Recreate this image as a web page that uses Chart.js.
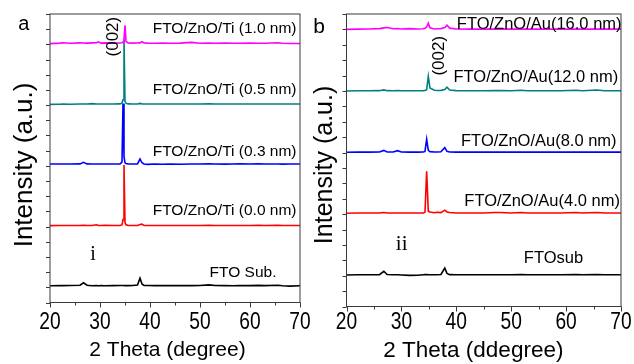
<!DOCTYPE html>
<html>
<head>
<meta charset="utf-8">
<script src="https://cdn.jsdelivr.net/npm/chart.js@4.4.1/dist/chart.umd.min.js"></script>
<style>
  body { margin: 0; background: #fff; }
  .wrap { position: relative; width: 634px; height: 364px; }
  .wrap canvas { position: absolute; left: 0; top: 0; }
</style>
</head>
<body>
<div class="wrap">
  <canvas id="panelA" width="634" height="364"></canvas>
  <canvas id="panelB" width="634" height="364"></canvas>
</div>
<script>
// ---- panel a : FTO/ZnO/Ti ----
const twoThetaA = [20, 22, 22.6, 24, 26, 26.7, 27.4, 28.4, 29.3, 29.7,
  30.2, 31, 32.5, 34, 34.4, 34.6, 34.8, 35.0, 35.2, 35.6,
  36.5, 37.5, 38.0, 38.4, 38.8, 39.5, 41, 42.5, 44, 46,
  48.3, 50, 51.8, 53, 55, 56.5, 58, 60, 61.7, 63,
  65.6, 66.5, 68, 70];

const ti10 = [0, 0.03, 0.06, 0.02, 0.05, 0.04, 0.03, 0.05, 0.06, 0.12,
  0.03, 0.05, 0.03, 0.04, 0.06, 0.1, 0.3, 1.2, 0.15, 0.05,
  0.03, 0.04, 0.05, 0.12, 0.04, 0.03, 0.02, 0.04, 0.02, 0.03,
  0.08, 0.02, 0.03, 0.02, 0.03, 0.02, 0.02, 0.03, 0.02, 0.02,
  0.06, 0.02, 0.01, 0.01];
const ti05 = [0, 0.01, 0.02, 0.01, 0.02, 0.02, 0.02, 0.05, 0.02, 0.02,
  0.02, 0.02, 0.02, 0.03, 0.08, 0.3, 4.3, 0.2, 0.08, 0.03,
  0.02, 0.02, 0.06, 0.03, 0.02, 0.02, 0.02, 0.02, 0.02, 0.02,
  0.02, 0.02, 0.03, 0.02, 0.02, 0.02, 0.02, 0.02, 0.02, 0.02,
  0.02, 0.02, 0.02, 0.02];
const ti03 = [0.02, 0.02, 0.02, 0.02, 0.03, 0.13, 0.03, 0.02, 0.02, 0.02,
  0.02, 0.02, 0.02, 0.03, 0.15, 4.0, 0.5, 0.1, 0.05, 0.03,
  0.02, 0.03, 0.35, 0.1, 0.02, 0.0, 0.02, 0.0, 0.02, 0.0,
  0.02, 0.02, 0.03, 0.02, 0.01, 0.02, 0.03, 0.02, 0.03, 0.02,
  0.02, 0.01, 0.02, 0.02];
const ti00 = [0, 0.01, 0.01, 0.01, 0.01, 0.03, 0.01, 0.01, 0.06, 0.01,
  0.01, 0.03, 0.01, 0.02, 0.05, 0.4, 4.0, 0.2, 0.06, 0.02,
  0.01, 0.01, 0.08, 0.1, 0.02, 0.01, 0.01, 0.01, 0.01, 0.01,
  0.01, 0.01, 0.03, 0.01, 0.01, 0.01, 0.01, 0.01, 0.02, 0.01,
  0.02, 0.01, 0.01, 0.01];
const ftoA = [0, 0.02, 0.01, 0.02, 0.04, 0.2, 0.04, 0.0, 0.01, 0.0,
  0.02, 0.0, 0.01, 0.02, 0.02, 0.02, 0.02, 0.01, 0.02, 0.01,
  0.02, 0.05, 0.5, 0.12, 0.03, 0.02, 0.01, 0.02, 0.01, 0.02,
  0.01, 0.02, 0.06, 0.02, 0.01, 0.0, 0.02, 0.01, 0.03, 0.01,
  0.04, 0.0, -0.02, 0.0];

const namesA = ['FTO/ZnO/Ti (1.0 nm)', 'FTO/ZnO/Ti (0.5 nm)', 'FTO/ZnO/Ti (0.3 nm)', 'FTO/ZnO/Ti (0.0 nm)', 'FTO Sub.'];
const offsetsA = [17.05, 13.05, 9.1, 5.06, 1.1];

// ---- panel b : FTO/ZnO/Au ----
const twoThetaB = [20, 22, 24, 26, 26.8, 27.4, 28.5, 29.3, 30, 31.5,
  33, 34, 34.3, 34.6, 34.9, 35.2, 36, 36.5, 37.2, 37.9,
  38.3, 38.8, 40, 42.5, 45, 47, 48, 50, 51.8, 53,
  56, 59, 61.8, 63, 65.6, 67, 70];

const au16 = [0, 0.02, 0.03, 0.05, 0.1, 0.12, 0.04, 0.06, 0.03, 0.05,
  0.03, 0.04, 0.08, 0.15, 0.4, 0.1, 0.03, 0.04, 0.05, 0.12,
  0.27, 0.08, 0.03, 0.02, 0.02, 0.03, 0.02, 0.02, 0.03, 0.02,
  0.02, 0.02, 0.02, 0.02, 0.02, 0.02, 0.02];
const au12 = [0, 0.01, 0.01, 0.02, 0.07, 0.02, 0.01, 0.02, 0.01, 0.01,
  0.01, 0.02, 0.03, 0.08, 0.95, 0.2, 0.05, 0.03, 0.04, 0.1,
  0.25, 0.06, 0.02, 0.01, 0.01, 0.02, 0.02, 0.01, 0.05, 0.01,
  0.01, 0.01, 0.05, 0.01, 0.06, 0.01, 0.01];
const au8 = [0, 0.01, 0.01, 0.02, 0.12, 0.02, 0.02, 0.1, 0.02, 0.01,
  0.01, 0.02, 0.05, 0.85, 0.12, 0.04, 0.02, 0.02, 0.03, 0.3,
  0.06, 0.02, 0.01, 0.01, 0.01, 0.01, 0.01, 0.01, 0.01, 0.01,
  0.01, 0.01, 0.01, 0.01, 0.01, 0.01, 0.01];
const au4 = [0, 0.01, 0.01, 0.01, 0.05, 0.01, 0.01, 0.01, 0.01, 0.01,
  0.01, 0.01, 0.08, 2.73, 0.12, 0.08, 0.03, 0.06, 0.04, 0.2,
  0.08, 0.05, 0.01, 0.01, 0.01, 0.05, 0.05, 0.01, 0.05, 0.01,
  0.01, 0.01, 0.05, 0.01, 0.05, 0.01, 0.01];
const ftoB = [0, 0.01, 0.01, 0.02, 0.24, 0.03, 0.01, 0.01, 0.0, -0.03,
  -0.02, 0.01, 0.02, 0.02, 0.01, 0.01, 0.01, 0.01, 0.03, 0.45,
  0.1, 0.02, 0.01, 0.01, 0.01, 0.01, 0.01, 0.01, 0.03, 0.01,
  0.01, 0.01, 0.03, 0.01, 0.03, 0.01, 0.01];

const namesB = ['FTO/ZnO/Au(16.0 nm)', 'FTO/ZnO/Au(12.0 nm)', 'FTO/ZnO/Au(8.0 nm)', 'FTO/ZnO/Au(4.0 nm)', 'FTOsub'];
const offsetsB = [18.0, 14.0, 10.02, 6.06, 2.05];

const xTicks = [20, 30, 40, 50, 60, 70];
const colors = ['#ff00ff', '#008080', '#0000ff', '#ff0000', '#000000'];

const SANS = 'Arial, "Liberation Sans", sans-serif';
const SERIF = '"Times New Roman", "Liberation Serif", serif';

// frame, outward ticks and all the text of one panel
const xrdFrame = {
  id: 'xrdFrame',
  afterDatasetsDraw(chart, args, o) {
    const { ctx, chartArea: a } = chart;
    const xs = chart.scales.x, ys = chart.scales.y;
    ctx.save();
    ctx.strokeStyle = '#3a3a3a';
    ctx.lineWidth = 1;
    ctx.strokeRect(a.left, a.top, a.right - a.left, a.bottom - a.top);
    ctx.beginPath();
    for (let v = ys.min; v <= ys.max; v++) {
      const py = Math.round(ys.getPixelForValue(v)) + 0.5;
      ctx.moveTo(a.left - 4, py);
      ctx.lineTo(a.left, py);
    }
    for (let t = xs.min; t <= xs.max; t += 5) {
      const px = Math.round(xs.getPixelForValue(t)) + 0.5;
      ctx.moveTo(px, a.bottom);
      ctx.lineTo(px, a.bottom + (t % 10 === 0 ? 5 : 3));
    }
    ctx.stroke();

    ctx.fillStyle = '#000';
    ctx.textBaseline = 'alphabetic';

    // tick labels (narrow, tall digits like the original)
    ctx.font = o.tickSize + 'px ' + SANS;
    ctx.textAlign = 'center';
    xTicks.forEach(t => {
      ctx.save();
      ctx.translate(xs.getPixelForValue(t), a.bottom + o.tickGap);
      ctx.scale(0.8, 1);
      ctx.fillText(String(t), 0, 0);
      ctx.restore();
    });

    // x title
    ctx.font = o.xTitleSize + 'px ' + SANS;
    ctx.fillText(o.xTitle, (a.left + a.right) / 2 + o.xTitleDx, a.bottom + o.xTitleGap);

    // y title
    ctx.save();
    ctx.translate(a.left - o.yTitleGap, (a.top + a.bottom) / 2 + o.yTitleDy);
    ctx.rotate(-Math.PI / 2);
    ctx.font = o.yTitleSize + 'px ' + SANS;
    ctx.fillText('Intensity (a.u.)', 0, 0);
    ctx.restore();

    // panel letter
    ctx.textAlign = 'left';
    ctx.font = o.letterSize + 'px ' + SANS;
    ctx.fillText(o.letter, a.left - o.letterDx, a.top + o.letterDy);

    // series names
    ctx.textAlign = 'right';
    ctx.font = o.nameSize + 'px ' + SANS;
    o.names.forEach((n, i) => {
      ctx.fillText(n, xs.getPixelForValue(o.nameAt[i][0]), ys.getPixelForValue(o.nameAt[i][1]));
    });

    // (002) peak label
    ctx.save();
    ctx.translate(xs.getPixelForValue(o.peakAt[0]), ys.getPixelForValue(o.peakAt[1]));
    ctx.rotate(-Math.PI / 2);
    ctx.textAlign = 'center';
    ctx.font = o.peakSize + 'px ' + SANS;
    ctx.fillText('(002)', 0, 0);
    ctx.restore();

    // roman numeral
    ctx.textAlign = 'center';
    ctx.font = o.romanSize + 'px ' + SERIF;
    ctx.fillText(o.roman, xs.getPixelForValue(o.romanAt[0]), ys.getPixelForValue(o.romanAt[1]));

    ctx.restore();
  }
};

function buildSets(twoTheta, series, offsets) {
  return series.map((vals, i) => ({
    data: twoTheta.map((t, k) => ({ x: t, y: vals[k] + offsets[i] })),
    borderColor: colors[i],
    backgroundColor: colors[i],
    borderWidth: 1.6,
    pointRadius: 0,
    tension: 0,
    fill: false
  }));
}

function makePanel(id, sets, padding, frameOpts) {
  return new Chart(document.getElementById(id).getContext('2d'), {
    type: 'line',
    data: { datasets: sets },
    options: {
      responsive: false,
      animation: false,
      events: [],
      layout: { padding: padding },
      scales: {
        x: { type: 'linear', min: 20, max: 70, display: false },
        y: { type: 'linear', min: 0, max: 19, display: false }
      },
      plugins: {
        legend: { display: false },
        tooltip: { enabled: false },
        xrdFrame: frameOpts
      }
    },
    plugins: [xrdFrame]
  });
}

makePanel('panelA',
  buildSets(twoThetaA, [ti10, ti05, ti03, ti00, ftoA], offsetsA),
  { left: 50, right: 334, top: 14, bottom: 61.5 },
  {
    tickSize: 24, tickGap: 26.5,
    xTitle: '2 Theta (degree)', xTitleSize: 21, xTitleDx: -7.5, xTitleGap: 53.2,
    yTitleSize: 26, yTitleGap: 18.3, yTitleDy: 6.7,
    letter: 'a', letterSize: 20, letterDx: 31.7, letterDy: 16,
    names: namesA, nameSize: 15.5,
    nameAt: [[69.3, 17.73], [69.3, 13.72], [69.3, 9.68], [69.3, 5.76], [65.3, 1.65]],
    peakAt: [33.5, 17.51], peakSize: 17,
    roman: 'i', romanAt: [28.6, 2.8], romanSize: 20
  });

makePanel('panelB',
  buildSets(twoThetaB, [au16, au12, au8, au4, ftoB], offsetsB),
  { left: 346.5, right: 13, top: 14, bottom: 57.5 },
  {
    tickSize: 24, tickGap: 22.8,
    xTitle: '2 Theta (ddegree)', xTitleSize: 22.5, xTitleDx: -10.4, xTitleGap: 50.2,
    yTitleSize: 25, yTitleGap: 14.8, yTitleDy: 4.7,
    letter: 'b', letterSize: 21, letterDx: 33.2, letterDy: 19,
    names: namesB, nameSize: 16.5,
    nameAt: [[70.1, 18.0], [69.5, 14.59], [69.2, 10.43], [69.8, 6.5], [63.1, 2.83]],
    peakAt: [37.76, 16.29], peakSize: 17,
    roman: 'ii', romanAt: [30.05, 3.67], romanSize: 21
  });
</script>
</body>
</html>
